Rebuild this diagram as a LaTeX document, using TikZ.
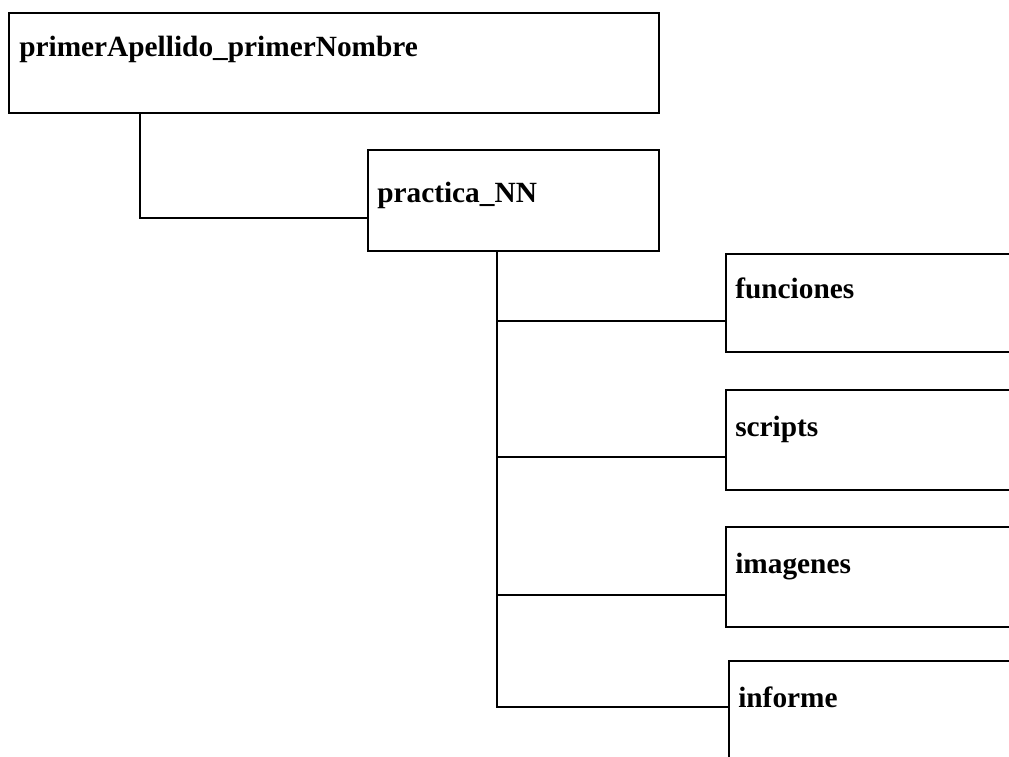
\documentclass[tikz,border=0pt]{standalone}
\usepackage{fontspec}
\setmainfont{Liberation Serif}

\tikzset{
  folder/.style={draw, rectangle, line width=1.4pt, anchor=north west, inner sep=0pt},
  lbl/.style={anchor=base west, inner sep=0pt, font=\fontsize{22}{26}\selectfont\bfseries},
  link/.style={line width=2pt},
}

\begin{document}
\begin{tikzpicture}[x=0.75pt, y=-0.75pt]
\clip (0,0) rectangle (1009,756);
\fill[white] (0,0) rectangle (1009,756);

% folders
\node[folder, minimum width=487.5pt, minimum height=75pt] (root) at (8,12) {};
\node[folder, minimum width=218.25pt, minimum height=75.75pt] (practica) at (367,149) {};
\node[folder, minimum width=228.75pt, minimum height=73.5pt] (funciones) at (725,253) {};
\node[folder, minimum width=228.75pt, minimum height=75pt] (scripts) at (725,389) {};
\node[folder, minimum width=228.75pt, minimum height=75pt] (imagenes) at (725,526) {};
\node[folder, minimum width=226.5pt, minimum height=90pt] (informe) at (728,660) {};

% names
\node[lbl] (tRoot) at (19,57) {primerApellido\_primerNombre};
\node[lbl] (tPractica) at (377,202) {practica\_NN};
\node[lbl] (tFunciones) at (735,298) {funciones};
\node[lbl] (tScripts) at (735,436) {scripts};
\node[lbl] (tImagenes) at (735,573) {imagenes};
\node[lbl] (tInforme) at (738,707) {informe};

% tree lines
\coordinate (j0) at (140,218);
\draw[link] (root.south -| j0) -- (j0) -- (j0 -| practica.west);
\coordinate (tr) at (497,707);
\draw[link] (practica.south -| tr) -- (tr) -- (tr -| informe.west);
\coordinate (b1) at (497,321);
\coordinate (b2) at (497,457);
\coordinate (b3) at (497,595);
\draw[link] (b1) -- (b1 -| funciones.west);
\draw[link] (b2) -- (b2 -| scripts.west);
\draw[link] (b3) -- (b3 -| imagenes.west);
\end{tikzpicture}
\end{document}
